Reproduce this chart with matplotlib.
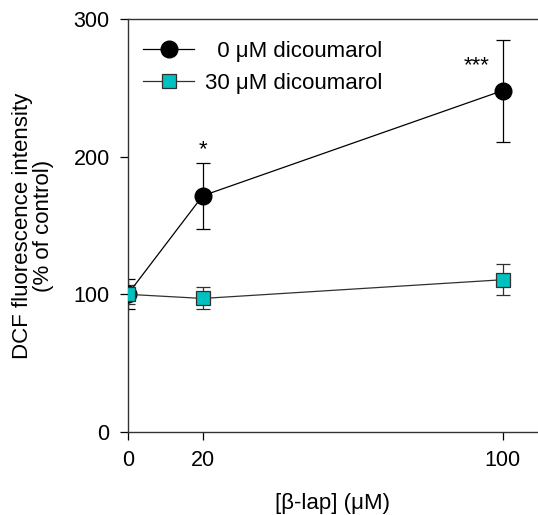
import matplotlib
matplotlib.use("Agg")
import matplotlib.pyplot as plt

plt.rcParams['font.family'] = ['Liberation Sans', 'DejaVu Sans']

# data
beta_lap = [0, 20, 100]
dcf_0 = [100, 171.6, 248]
err_0 = [11, 24, 37]
dcf_30 = [100, 97, 110.6]
err_30 = [7, 8, 11.4]
stars = ['', '*', '***']
star_x = [0, 20, 93]
star_y = [0, 205, 266]

fig = plt.figure(figsize=(5.38, 5.15), dpi=100)
ax = fig.add_axes([0.2374, 0.1612, 0.7626, 0.8019])

# error bars first, then lines with markers (so legend has no caps)
ax.errorbar(beta_lap, dcf_0, yerr=err_0, fmt='none', ecolor='black', elinewidth=0.9,
            capsize=5, capthick=0.9, zorder=2)
ax.errorbar(beta_lap, dcf_30, yerr=err_30, fmt='none', ecolor='#303030', elinewidth=0.9,
            capsize=5, capthick=0.9, zorder=2)
ax.plot(beta_lap, dcf_0, color='black', lw=0.9, marker='o', markersize=12,
        mfc='black', mec='black', label='  0 \u03bcM dicoumarol', zorder=3)
ax.plot(beta_lap, dcf_30, color='#303030', lw=0.9, marker='s', markersize=10,
        mfc='#00c0c0', mec='#303030', mew=0.9, label='30 \u03bcM dicoumarol', zorder=4)

for sx, sy, s in zip(star_x, star_y, stars):
    if s:
        ax.text(sx, sy, s, ha='center', va='center', fontsize=16)

ax.set_xlim(0, 109.4)
ax.set_ylim(0, 300)
ax.set_xticks(beta_lap)
ax.set_yticks([0, 100, 200, 300])
ax.tick_params(direction='out', length=6, width=0.9, labelsize=15.5, pad=7)
ax.spines['right'].set_visible(False)
for sp in ['left', 'bottom', 'top']:
    ax.spines[sp].set_linewidth(1.0)
    ax.spines[sp].set_color('#333333')

ax.set_xlabel('[\u03b2-lap] (\u03bcM)', fontsize=16, labelpad=16)
ax.set_ylabel('DCF fluorescence intensity\n(% of control)', fontsize=16,
              labelpad=14, linespacing=1.0)

ax.legend(loc='upper left', bbox_to_anchor=(0.0, 0.985), frameon=False,
          fontsize=16, handlelength=2.3, handletextpad=0.5, labelspacing=0.5,
          borderaxespad=0.3)

fig.savefig('out.png', dpi=100)
